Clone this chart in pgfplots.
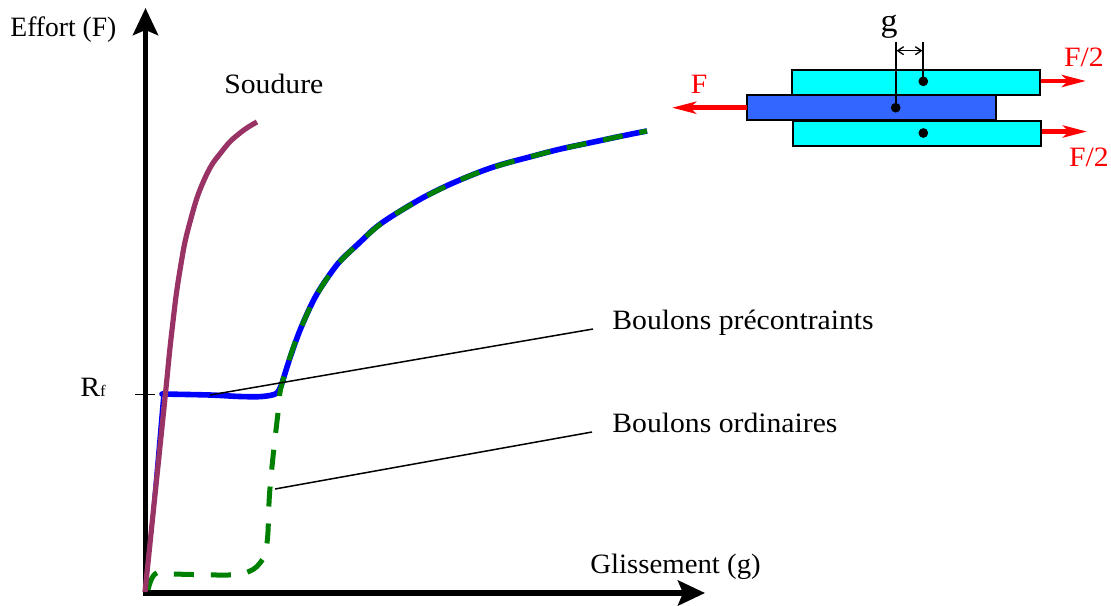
\documentclass[border=0pt]{standalone}
\usepackage{fontspec}
\setmainfont[FakeStretch=1.06]{Liberation Serif}
\usepackage{pgfplots}
\pgfplotsset{compat=1.18}
\usetikzlibrary{arrows.meta}
\definecolor{cCurve}{RGB}{0,0,255}
\definecolor{cGreen}{RGB}{0,128,0}
\definecolor{cPurple}{RGB}{153,51,102}
\definecolor{cCyan}{RGB}{0,255,255}
\definecolor{cMid}{RGB}{51,102,255}
\newcommand{\lab}{\fontsize{14}{16}\selectfont}
\begin{document}
\begin{tikzpicture}
\begin{axis}[
  scale only axis, width=555.5pt, height=301.5pt,
  xmin=0, xmax=1111, ymin=0, ymax=603, y dir=reverse,
  axis lines=none, ticks=none, clip=false,
  every axis plot/.append style={no markers},
  nodes={inner sep=0pt},
]
\path (axis cs:0,0) (axis cs:1111,603);
% plate assembly
\addplot[draw=black, line width=0.9pt, fill=cCyan] coordinates {(791.7,70)(1040,70)(1040,95)(791.7,95)} --cycle;
\addplot[draw=black, line width=0.9pt, fill=cCyan] coordinates {(793,120.7)(1041,120.7)(1041,145.7)(793,145.7)} --cycle;
\addplot[draw=black, line width=0.9pt, fill=cMid] coordinates {(747,95)(995.7,95)(995.7,120.3)(747,120.3)} --cycle;
\addplot[black, line width=1pt] coordinates {(895.7,41.7)(895.7,107.7)};
\addplot[black, line width=1pt] coordinates {(923.3,41.7)(923.3,81.3)};
\addplot[only marks, mark=*, mark size=2.2pt, black, mark options={fill=black}] coordinates {(895.7,107.7)(923.3,81.3)(923.3,133)};
\addplot[black, line width=0.65pt, {Straight Barb[length=3pt,width=4pt]}-{Straight Barb[length=3pt,width=4pt]}] coordinates {(896.5,50.7)(922.5,50.7)};
% red arrows
\addplot[red, line width=2.3pt, -{Stealth[length=12pt,width=6pt,inset=3pt]}] coordinates {(747,107.7)(672,107.7)};
\addplot[red, line width=2.3pt, -{Stealth[length=12pt,width=6pt,inset=3pt]}] coordinates {(1041,81)(1086,81)};
\addplot[red, line width=2.3pt, -{Stealth[length=12pt,width=6pt,inset=3pt]}] coordinates {(1042,131.5)(1087,131.5)};
% axes
\addplot[black, line width=2.7pt, -{Stealth[length=13.5pt,width=12.5pt,inset=2.5pt]}] coordinates {(145.5,595)(145.5,8)};
\addplot[black, line width=2.7pt, -{Stealth[length=13.5pt,width=12.5pt,inset=2.5pt]}] coordinates {(143,593)(705,593)};
% Rf tick
\addplot[black, line width=0.8pt] coordinates {(135,394.5)(155,394.5)};
% blue curve
\addplot[cCurve, line width=0.8pt] coordinates {(145,592)(162,394)};
\addplot[cCurve, line width=2.8pt, smooth, tension=0.5, line cap=round] coordinates {(162,394)(210,395)(240,396.5)(262,396.5)(277,393)(283,380)};
\addplot[cCurve, line width=2.8pt, smooth, tension=0.8] coordinates {(283,380)(303,323)(328,277)(357,245)(397,213)(467,177)(537,155)(603,140)(647,131)};
% green dashed curve
\addplot[cGreen, line width=2.5pt, smooth, tension=0.7, dash pattern=on 10pt off 8.5pt] coordinates {(148,590)(155,574)(170,574)(227,575)(245,573)(260,563)(267,543)(270,488)(278,413)(283,380)(303,323)(328,277)(357,245)(397,213)(467,177)(537,155)(603,140)(647,131)};
% purple curve
\addplot[cPurple, line width=2.6pt, smooth, tension=0.8] coordinates {(145,592)(155,495)(165,398)(172,330)(180,270)(190,222)(205,178)(223,150)(240,133)(257,122)};
\addplot[black, line width=0.75pt] coordinates {(210,395)(593,329)};
\addplot[black, line width=0.75pt] coordinates {(275,489)(592,432)};
% labels
\node[anchor=base west, font=\lab] at (axis cs:10,36) {\scalebox{0.93}[1]{Effort (F)}};
\node[anchor=base west, font=\lab] at (axis cs:224,93) {Soudure};
\node[anchor=base west, font=\lab] at (axis cs:80,396) {R{\fontsize{8}{9}\selectfont f}};
\node[anchor=base west, font=\lab] at (axis cs:590,573) {\scalebox{0.97}[1]{Glissement (g)}};
\node[anchor=base west, font=\lab] at (axis cs:612,329) {Boulons précontraints};
\node[anchor=base west, font=\lab] at (axis cs:612,432) {Boulons ordinaires};
\node[anchor=base, font=\fontsize{16}{18}\selectfont] at (axis cs:889,31) {g};
\node[anchor=base, font=\lab, text=red] at (axis cs:699,93) {F};
\node[anchor=base, font=\lab, text=red] at (axis cs:1084,66) {F/2};
\node[anchor=base, font=\lab, text=red] at (axis cs:1089,166) {F/2};
\end{axis}
\end{tikzpicture}
\end{document}
